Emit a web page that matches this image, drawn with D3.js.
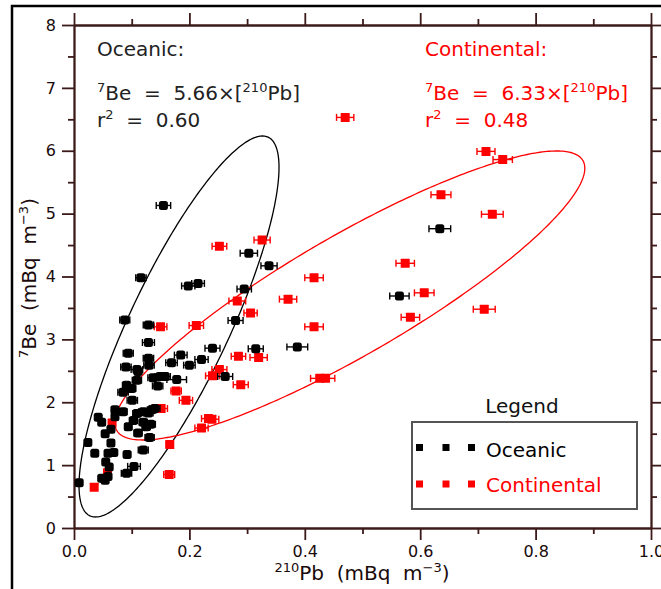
<!DOCTYPE html>
<html>
<head>
<meta charset="utf-8">
<script src="https://cdn.jsdelivr.net/npm/d3@7"></script>
<style>
  body { margin: 0; background: #fff; }
  text { font-family: "DejaVu Sans", sans-serif; white-space: pre; }
</style>
</head>
<body>
<svg id="chart" width="661" height="589"></svg>
<script>
// 210Pb (mBq m-3), 7Be (mBq m-3) and 210Pb uncertainty for oceanic air masses
const oceanicPb = [0.155, 0.303, 0.338, 0.116, 0.198, 0.215, 0.295, 0.280, 0.088, 0.129,
  0.129, 0.094, 0.090, 0.109, 0.111, 0.129, 0.130, 0.109, 0.091, 0.100,
  0.085, 0.101, 0.137, 0.149, 0.158, 0.145, 0.178, 0.169, 0.185, 0.200,
  0.221, 0.240, 0.262, 0.315, 0.387, 0.140, 0.071, 0.085, 0.071, 0.109,
  0.120, 0.129, 0.135, 0.042, 0.048, 0.064, 0.054, 0.094, 0.103, 0.120,
  0.125, 0.133, 0.111, 0.131, 0.024, 0.064, 0.036, 0.059, 0.069, 0.092,
  0.120, 0.055, 0.061, 0.104, 0.091, 0.048, 0.059, 0.054, 0.009, 0.634,
  0.564];
const oceanicBe = [5.13, 4.37, 4.17, 3.98, 3.85, 3.89, 3.80, 3.30, 3.31, 3.23,
  2.95, 2.78, 2.56, 2.52, 2.49, 2.70, 2.59, 2.35, 2.27, 2.22,
  2.16, 2.03, 2.39, 2.41, 2.41, 2.26, 2.36, 2.63, 2.75, 2.59,
  2.68, 2.86, 2.41, 2.85, 2.88, 1.90, 1.88, 1.85, 1.77, 1.82,
  1.85, 1.83, 1.88, 1.76, 1.68, 1.57, 1.50, 1.61, 1.71, 1.68,
  1.61, 1.65, 1.51, 1.44, 1.36, 1.35, 1.19, 1.19, 1.20, 1.17,
  1.24, 1.05, 0.97, 0.98, 0.87, 0.79, 0.82, 0.76, 0.72, 4.76,
  3.69];
const oceanicErr = [0.0125, 0.015, 0.014, 0.009, 0.0115, 0.011, 0.0125, 0.013, 0.0087, 0.009,
  0.0104, 0.0087, 0.009, 0.010, 0.006, 0.009, 0.009, 0.008, 0.007, 0.007,
  0.009, 0.009, 0.009, 0.009, 0.009, 0.009, 0.017, 0.010, 0.011, 0.010,
  0.0115, 0.013, 0.013, 0.013, 0.018, 0.009, 0.006, 0.007, 0.005, 0.007,
  0.008, 0.008, 0.008, 0.004, 0.004, 0.005, 0.004, 0.006, 0.007, 0.007,
  0.007, 0.008, 0.007, 0.008, 0.003, 0.005, 0.003, 0.005, 0.005, 0.006,
  0.0087, 0.004, 0.005, 0.011, 0.009, 0.004, 0.005, 0.004, 0.002, 0.0188,
  0.0168];

// Same quantities for continental air masses
const continentalPb = [0.470, 0.714, 0.743, 0.636, 0.725, 0.574, 0.607, 0.583, 0.711, 0.252,
  0.326, 0.283, 0.306, 0.416, 0.371, 0.416, 0.320, 0.285, 0.212, 0.150,
  0.252, 0.240, 0.289, 0.426, 0.436, 0.177, 0.194, 0.151, 0.233, 0.239,
  0.221, 0.066, 0.166, 0.058, 0.165, 0.035];
const continentalBe = [6.53, 5.99, 5.86, 5.30, 4.99, 4.21, 3.74, 3.35, 3.48, 4.48,
  4.58, 3.61, 3.42, 3.98, 3.64, 3.20, 2.71, 2.73, 3.22, 3.20,
  2.52, 2.42, 2.28, 2.38, 2.38, 2.18, 2.03, 1.90, 1.74, 1.73,
  1.59, 1.67, 1.33, 0.88, 0.85, 0.65];
const continentalErr = [0.015, 0.0156, 0.0168, 0.0173, 0.0188, 0.016, 0.017, 0.016, 0.019, 0.0127,
  0.014, 0.0145, 0.0115, 0.016, 0.015, 0.016, 0.015, 0.0125, 0.0125, 0.011,
  0.013, 0.012, 0.013, 0.016, 0.016, 0.009, 0.0115, 0.011, 0.012, 0.012,
  0.0115, 0.005, 0.006, 0.005, 0.0095, 0.003];

// Axis ticks
const xMajorTicks = [0, 0.2, 0.4, 0.6, 0.8, 1.0];
const xMinorTicks = [0.1, 0.3, 0.5, 0.7, 0.9];
const yMajorTicks = [0, 1, 2, 3, 4, 5, 6, 7, 8];
const yMinorTicks = [0.5, 1.5, 2.5, 3.5, 4.5, 5.5, 6.5, 7.5];

// Covariance ellipses in data units: centre and two conjugate half-axes
const oceanicEllipse = { cx: 0.182, cy: 3.205, ax: 0.1733, ay: 2.530, bx: 0, by: 1.667 };
const continentalEllipse = { cx: 0.478, cy: 3.698, ax: 0.4073, ay: 2.023, bx: 0, by: 1.091 };

const RED = "#ff0000";
const AXIS = "#3d1a1a";

const svg = d3.select("#chart");
const x = d3.scaleLinear().domain([0, 1]).range([74, 651]);
const y = d3.scaleLinear().domain([0, 8]).range([528, 25]);

// outer frame
svg.append("rect").attr("x", 12).attr("y", 6).attr("width", 900).attr("height", 900)
  .attr("fill", "none").attr("stroke", "#000").attr("stroke-width", 2.5);

// axes
function styleAxis(g) {
  g.selectAll("path, line").attr("stroke", AXIS).attr("stroke-width", 1.8);
  g.selectAll("text").attr("fill", "#1a0a0a").attr("font-size", 16)
    .attr("font-family", "DejaVu Sans, sans-serif");
}
const axisBottomG = svg.append("g").attr("transform", `translate(0,${y(0)})`);
axisBottomG.call(d3.axisBottom(x).tickValues(xMajorTicks).tickSize(12).tickSizeOuter(0)
  .tickPadding(6).tickFormat(d3.format(".1f")));
axisBottomG.append("g").call(d3.axisBottom(x).tickValues(xMinorTicks).tickSize(6).tickSizeOuter(0)
  .tickFormat(""));
axisBottomG.call(styleAxis);

const axisTopG = svg.append("g").attr("transform", `translate(0,${y(8)})`);
axisTopG.call(d3.axisTop(x).tickValues(xMajorTicks).tickSize(12).tickSizeOuter(0).tickFormat(""));
axisTopG.append("g").call(d3.axisTop(x).tickValues(xMinorTicks).tickSize(6).tickSizeOuter(0).tickFormat(""));
axisTopG.call(styleAxis);

const axisLeftG = svg.append("g").attr("transform", `translate(${x(0)},0)`);
axisLeftG.call(d3.axisLeft(y).tickValues(yMajorTicks).tickSize(12).tickSizeOuter(0)
  .tickPadding(6).tickFormat(d3.format("d")));
axisLeftG.append("g").call(d3.axisLeft(y).tickValues(yMinorTicks).tickSize(6).tickSizeOuter(0).tickFormat(""));
axisLeftG.call(styleAxis);

const axisRightG = svg.append("g").attr("transform", `translate(${x(1)},0)`);
axisRightG.call(d3.axisRight(y).tickValues(yMajorTicks).tickSize(12).tickSizeOuter(0).tickFormat(""));
axisRightG.append("g").call(d3.axisRight(y).tickValues(yMinorTicks).tickSize(6).tickSizeOuter(0).tickFormat(""));
axisRightG.call(styleAxis);

// axis titles
const xt = svg.append("text").attr("x", 362).attr("y", 580).attr("text-anchor", "middle")
  .attr("font-size", 20).attr("fill", "#1a0a0a");
xt.append("tspan").attr("font-size", 13).attr("dy", -8).text("210");
xt.append("tspan").attr("dy", 8).text("Pb  (mBq  m");
xt.append("tspan").attr("font-size", 13).attr("dy", -8).text("\u22123");
xt.append("tspan").attr("dy", 8).text(")");

const yt = svg.append("text").attr("transform", "translate(36,278) rotate(-90)")
  .attr("text-anchor", "middle").attr("font-size", 20).attr("fill", "#1a0a0a");
yt.append("tspan").attr("font-size", 13).attr("dy", -8).text("7");
yt.append("tspan").attr("dy", 8).text("Be  (mBq  m");
yt.append("tspan").attr("font-size", 13).attr("dy", -8).text("\u22123");
yt.append("tspan").attr("dy", 8).text(")");

// regression annotations
function annotate(x0, colour, title, slope, r2) {
  svg.append("text").attr("x", x0).attr("y", 56).attr("font-size", 20).attr("fill", colour).text(title);
  const eq = svg.append("text").attr("x", x0).attr("y", 100).attr("font-size", 20).attr("fill", colour);
  eq.append("tspan").attr("font-size", 13).attr("dy", -8).text("7");
  eq.append("tspan").attr("dy", 8).text("Be  =  " + slope + "\u00d7[");
  eq.append("tspan").attr("font-size", 13).attr("dy", -8).text("210");
  eq.append("tspan").attr("dy", 8).text("Pb]");
  const r = svg.append("text").attr("x", x0).attr("y", 127).attr("font-size", 20).attr("fill", colour);
  r.append("tspan").text("r");
  r.append("tspan").attr("font-size", 13).attr("dy", -8).text("2");
  r.append("tspan").attr("dy", 8).text("  =  " + r2);
}
annotate(97, "#222", "Oceanic:", "5.66", "0.60");
annotate(425, RED, "Continental:", "6.33", "0.48");

// ellipses
function ellipsePath(e) {
  const pts = d3.range(0, 2 * Math.PI + 0.001, Math.PI / 180).map(t => [
    e.cx + e.ax * Math.cos(t) + e.bx * Math.sin(t),
    e.cy + e.ay * Math.cos(t) + e.by * Math.sin(t)
  ]);
  return d3.line().x(d => x(d[0])).y(d => y(d[1]))(pts);
}
svg.append("path").attr("d", ellipsePath(oceanicEllipse))
  .attr("fill", "none").attr("stroke", "#000").attr("stroke-width", 1.3);
svg.append("path").attr("d", ellipsePath(continentalEllipse))
  .attr("fill", "none").attr("stroke", RED).attr("stroke-width", 1.3);

// points with horizontal error bars
function drawSeries(pb, be, err, colour, rx) {
  const data = pb.map((v, i) => ({ x: v, y: be[i], e: err[i] }));
  const g = svg.append("g");
  const pt = g.selectAll("g").data(data).join("g");
  pt.append("line").attr("x1", d => x(d.x - d.e)).attr("x2", d => x(d.x + d.e))
    .attr("y1", d => y(d.y)).attr("y2", d => y(d.y)).attr("stroke", colour).attr("stroke-width", 1.4);
  pt.append("line").attr("x1", d => x(d.x - d.e)).attr("x2", d => x(d.x - d.e))
    .attr("y1", d => y(d.y) - 3.5).attr("y2", d => y(d.y) + 3.5).attr("stroke", colour).attr("stroke-width", 1.4);
  pt.append("line").attr("x1", d => x(d.x + d.e)).attr("x2", d => x(d.x + d.e))
    .attr("y1", d => y(d.y) - 3.5).attr("y2", d => y(d.y) + 3.5).attr("stroke", colour).attr("stroke-width", 1.4);
  pt.append("rect").attr("x", d => x(d.x) - 4.5).attr("y", d => y(d.y) - 4.5)
    .attr("width", 9).attr("height", 9).attr("rx", rx).attr("fill", colour);
}
drawSeries(continentalPb, continentalBe, continentalErr, RED, 0.5);
drawSeries(oceanicPb, oceanicBe, oceanicErr, "#000", 2.5);

// legend
svg.append("text").attr("x", 522).attr("y", 413).attr("text-anchor", "middle")
  .attr("font-size", 20).attr("fill", "#111").text("Legend");
svg.append("rect").attr("x", 412).attr("y", 422).attr("width", 225).attr("height", 87)
  .attr("fill", "none").attr("stroke", "#555").attr("stroke-width", 2);
const legendItems = [
  { label: "Oceanic", colour: "#000", cy: 447.5, ty: 457 },
  { label: "Continental", colour: RED, cy: 484, ty: 492 }
];
const legendMarkX = [419.5, 446, 471.5];
legendItems.forEach(item => {
  legendMarkX.forEach(mx => {
    svg.append("rect").attr("x", mx - 3.5).attr("y", item.cy - 3.5).attr("width", 7).attr("height", 7)
      .attr("fill", item.colour);
  });
  svg.append("text").attr("x", 486).attr("y", item.ty).attr("font-size", 20)
    .attr("fill", item.colour).text(item.label);
});
</script>
</body>
</html>
